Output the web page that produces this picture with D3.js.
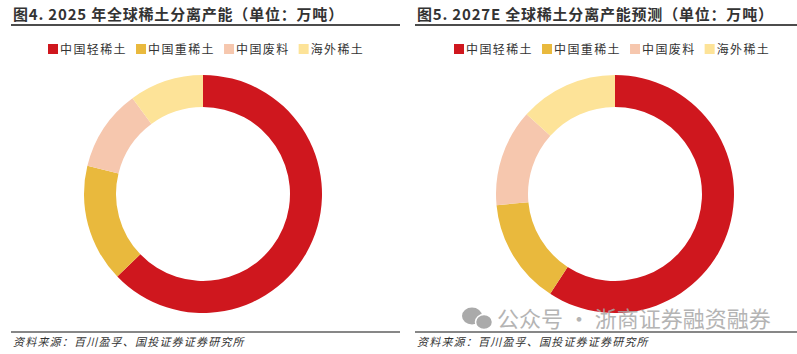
<!DOCTYPE html>
<html>
<head>
<meta charset="utf-8">
<script src="https://cdn.jsdelivr.net/npm/d3@7"></script>
<style>
  html, body { margin: 0; padding: 0; background: #fff; }
  svg { display: block; font-family: "Noto Sans CJK SC", "Noto Sans", sans-serif; }
</style>
</head>
<body>
<svg id="chart" width="797" height="354"></svg>
<script>
// categories + values (万吨)
const categories = ['中国轻稀土', '中国重稀土', '中国废料', '海外稀土'];
const colors = ['#cf171e', '#e9b93d', '#f6c7ae', '#fde398'];
const values2025 = [31.4, 8.0, 5.55, 5.05];
const values2027 = [35.5, 8.6, 7.9, 8.0];

const titles = ['图4. 2025 年全球稀土分离产能（单位：万吨）', '图5. 2027E 全球稀土分离产能预测（单位：万吨）'];
const source = '资料来源：百川盈孚、国投证券证券研究所';

const svg = d3.select('#chart');

const panels = [
  { x0: 11, x1: 400, cx: 203, title: titles[0], values: values2025, legendX: 48 },
  { x0: 415, x1: 797, cx: 615, title: titles[1], values: values2027, legendX: 454 }
];

const pie = d3.pie().sort(null).value(d => d);
const arc = d3.arc().innerRadius(87).outerRadius(119);

panels.forEach(p => {
  const g = svg.append('g');

  // title
  g.append('text')
    .attr('x', p.x0 + 2)
    .attr('y', 20)
    .attr('font-size', 15)
    .attr('font-weight', 'bold')
    .attr('letter-spacing', 0.8)
    .attr('fill', '#333')
    .text(p.title);

  g.append('line')
    .attr('x1', p.x0).attr('x2', p.x1)
    .attr('y1', 25).attr('y2', 25)
    .attr('stroke', '#111').attr('stroke-width', 1.5);

  // legend
  let lx = p.legendX;
  const leg = g.append('g');
  categories.forEach((c, i) => {
    leg.append('rect')
      .attr('x', lx).attr('y', 44)
      .attr('width', 10).attr('height', 10)
      .attr('fill', colors[i]);
    const t = leg.append('text')
      .attr('x', lx + 12).attr('y', 53.5)
      .attr('font-size', 12)
      .attr('letter-spacing', 1.4)
      .attr('fill', '#333')
      .text(c);
    lx += 12 + t.node().getComputedTextLength() + 9;
  });

  // donut
  const dg = g.append('g').attr('transform', `translate(${p.cx},194)`);
  dg.selectAll('path')
    .data(pie(p.values))
    .join('path')
    .attr('d', arc)
    .attr('fill', (d, i) => colors[i]);

  // footer
  g.append('line')
    .attr('x1', p.x0).attr('x2', p.x1)
    .attr('y1', 332).attr('y2', 332)
    .attr('stroke', '#111').attr('stroke-width', 1.2);

  g.append('text')
    .attr('x', p.x0 + 2)
    .attr('y', 346)
    .attr('font-size', 11)
    .attr('font-style', 'italic')
    .attr('letter-spacing', 1.2)
    .attr('fill', '#333')
    .text(source);
});

// watermark
const wm = svg.append('g').attr('opacity', 0.85);
wm.append('ellipse').attr('cx', 472).attr('cy', 316).attr('rx', 10).attr('ry', 8.5).attr('fill', '#9c9c9c');
wm.append('ellipse').attr('cx', 484).attr('cy', 322).attr('rx', 8.5).attr('ry', 7.5).attr('fill', '#9c9c9c').attr('stroke', '#fff').attr('stroke-width', 1.5);
wm.append('text')
  .attr('x', 497).attr('y', 327)
  .attr('font-size', 22)
  .attr('fill', '#a8a8a8')
  .text('公众号 · 浙商证券融资融券');
</script>
</body>
</html>
